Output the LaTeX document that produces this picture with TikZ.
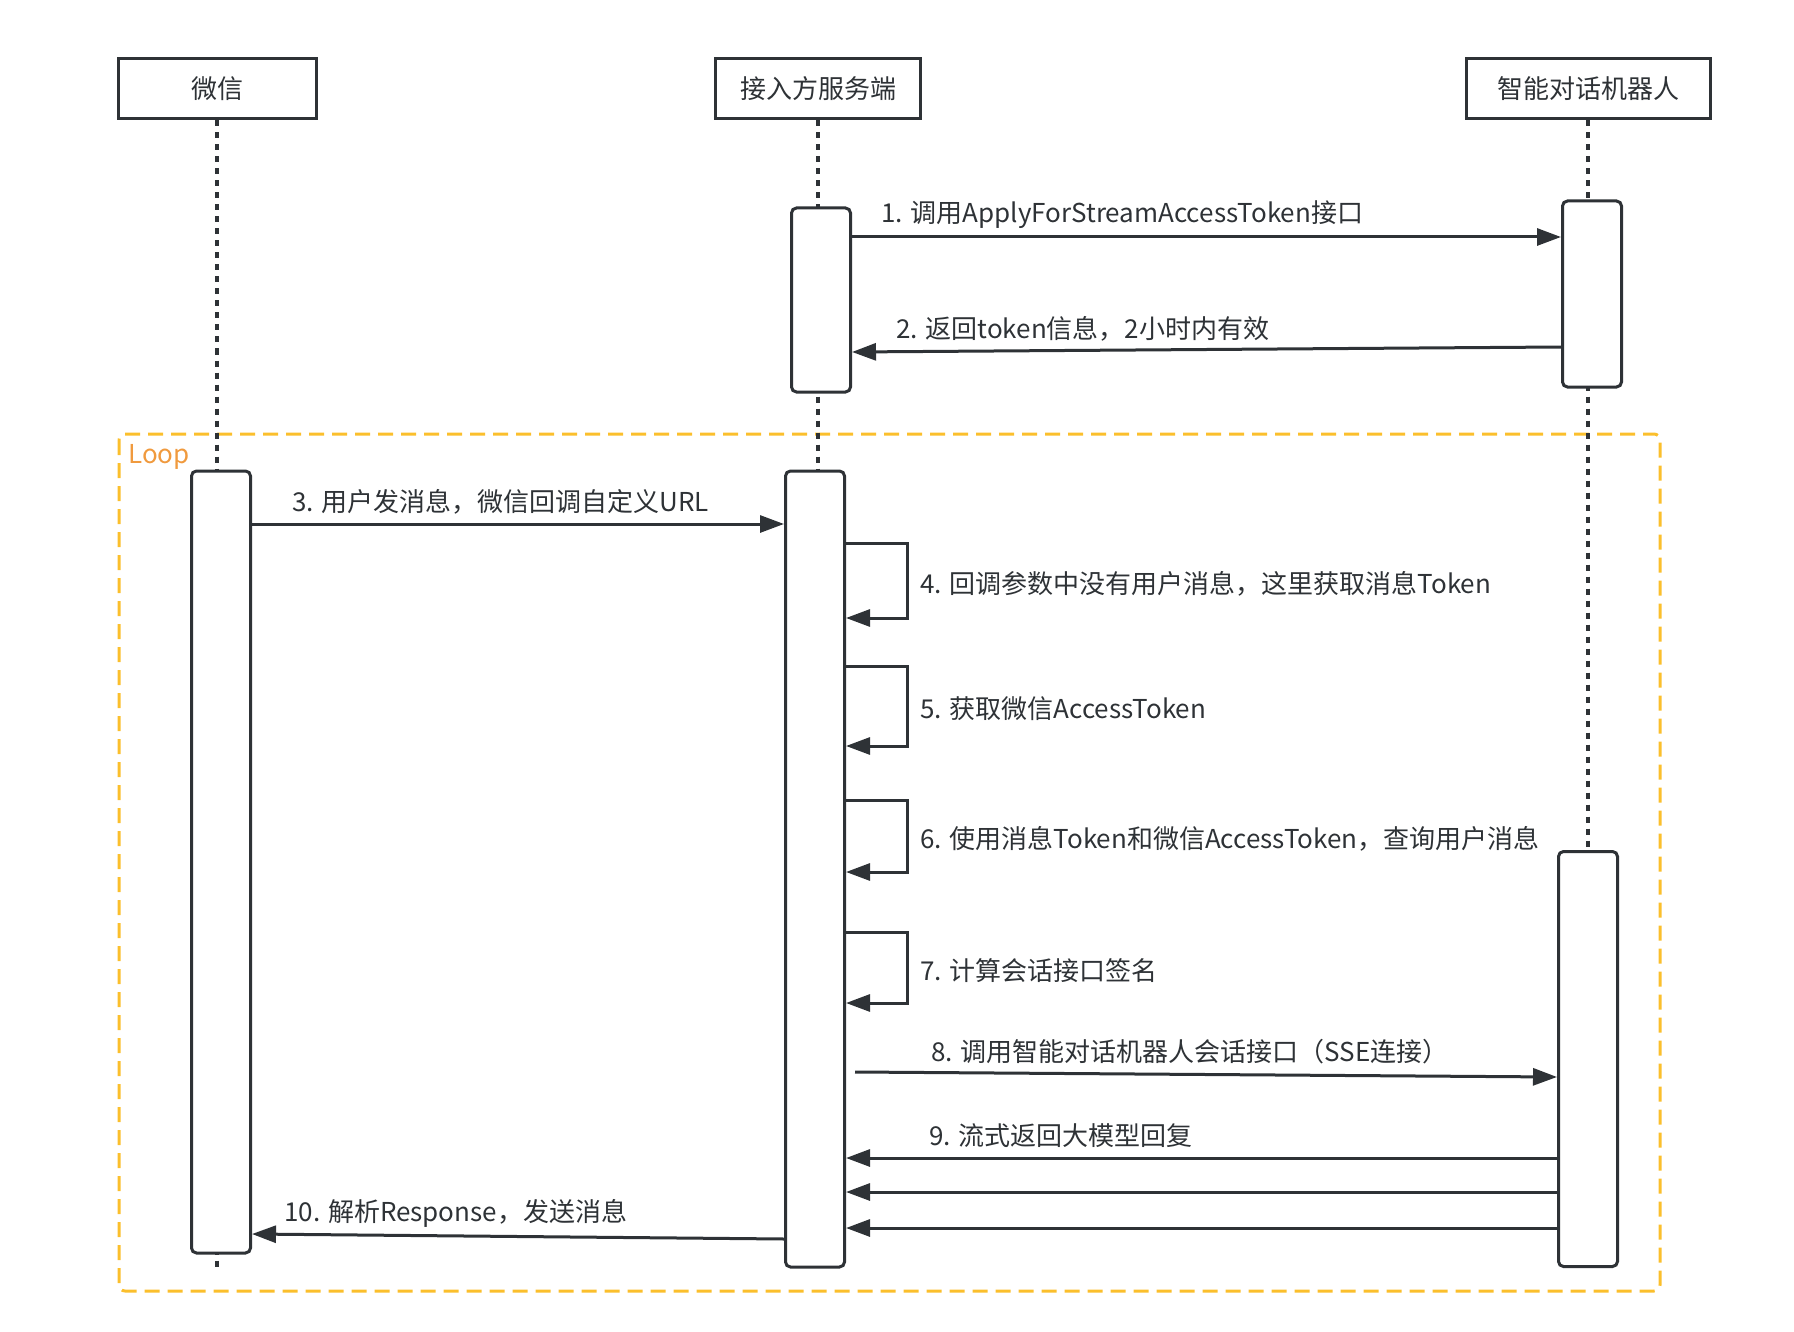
\documentclass[tikz,border=0pt]{standalone}
\usepackage{fontspec}
\setmainfont{Noto Sans CJK SC}
\usepackage{xcolor}
\definecolor{encre}{HTML}{2E3236}
\definecolor{jaune}{HTML}{FBBF2C}
\definecolor{orange}{HTML}{F09A3E}
\usepackage{tikz}
\usetikzlibrary{positioning,arrows.meta}

\begin{document}
\begin{tikzpicture}[x=1pt,y=-1pt,
  every node/.style={font=\fontsize{26}{30}\selectfont,text=encre},
  acteur/.style={draw=encre,fill=white,line width=3pt,minimum height=60pt,inner sep=0pt},
  activ/.style={draw=encre,fill=white,line width=3pt,rounded corners=5pt,minimum width=59pt,inner sep=0pt},
  vie/.style={encre,line width=3.2pt,dash pattern=on 6pt off 6pt},
  msg/.style={-{Triangle[length=24pt,width=17pt]},encre,line width=3pt},
  lbl/.style={anchor=west,inner sep=0pt,yshift=-3pt}
]
\useasboundingbox (0,0) rectangle (1794,1332);

% loop frame
\draw[jaune,line width=3pt,dash pattern=on 15pt off 8pt,rounded corners=6pt] (119,434) rectangle (1660,1291);
\node[lbl,text=orange] (loop) at (128,454) {Loop};

% participants
\node[acteur,minimum width=198pt] (wx) at (217,89) {微信};
\node[acteur,minimum width=205pt] (srv) at (818,89) {接入方服务端};
\node[acteur,minimum width=244pt] (bot) at (1588,89) {智能对话机器人};
\draw[vie] (wx.south) -- (wx.south |- 0,1272);
\draw[vie] (srv.south) -- (srv.south |- 0,1272);
\draw[vie] (bot.south) -- (bot.south |- 0,1272);

% activations
\node[activ,minimum height=184pt] (s1) at (821,300) {};
\node[activ,minimum height=186pt] (r1) at (1592,294) {};
\node[activ,minimum height=782pt] (w2) at (221,862) {};
\node[activ,minimum height=796pt] (s2) at (815,869) {};
\node[activ,minimum height=415pt] (r2) at (1588,1059) {};

% token
\draw[msg] (s1.east |- 0,237) -- (r1.west |- 0,237);
\node[lbl] (m1) at (881,212) {1. 调用ApplyForStreamAccessToken接口};
\draw[msg] (r1.west |- 0,347) -- (s1.east |- 0,352);
\node[lbl] (m2) at (896,326) {2. 返回token信息，2小时内有效};

% loop
\draw[msg] (w2.east |- 0,524) -- (s2.west |- 0,524);
\node[lbl] (m3) at (292,499) {3. 用户发消息，微信回调自定义URL};
\foreach \y/\h/\t in {543/75/{4. 回调参数中没有用户消息，这里获取消息Token},
                      666/80/{5. 获取微信AccessToken},
                      800/72/{6. 使用消息Token和微信AccessToken，查询用户消息},
                      932/71/{7. 计算会话接口签名}}{
  \draw[msg] (s2.east |- 0,\y) -- ++(61,0) -- ++(0,\h) -- (s2.east |- 0,\y+\h);
  \node[lbl] at (920,\y+\h/2) {\t};
}
\draw[msg] ([xshift=9pt]s2.east |- 0,1072) -- (r2.west |- 0,1077);
\node[lbl] (m8) at (931,1049) {8. 调用智能对话机器人会话接口（SSE连接）};
\foreach \y in {1158,1192,1228}
  \draw[msg] (r2.west |- 0,\y) -- (s2.east |- 0,\y);
\node[lbl] (m9) at (929,1133) {9. 流式返回大模型回复};
\draw[msg] (s2.west |- 0,1239) -- (w2.east |- 0,1234);
\node[lbl] (m10) at (284,1210) {10. 解析Response，发送消息};
\end{tikzpicture}
\end{document}
